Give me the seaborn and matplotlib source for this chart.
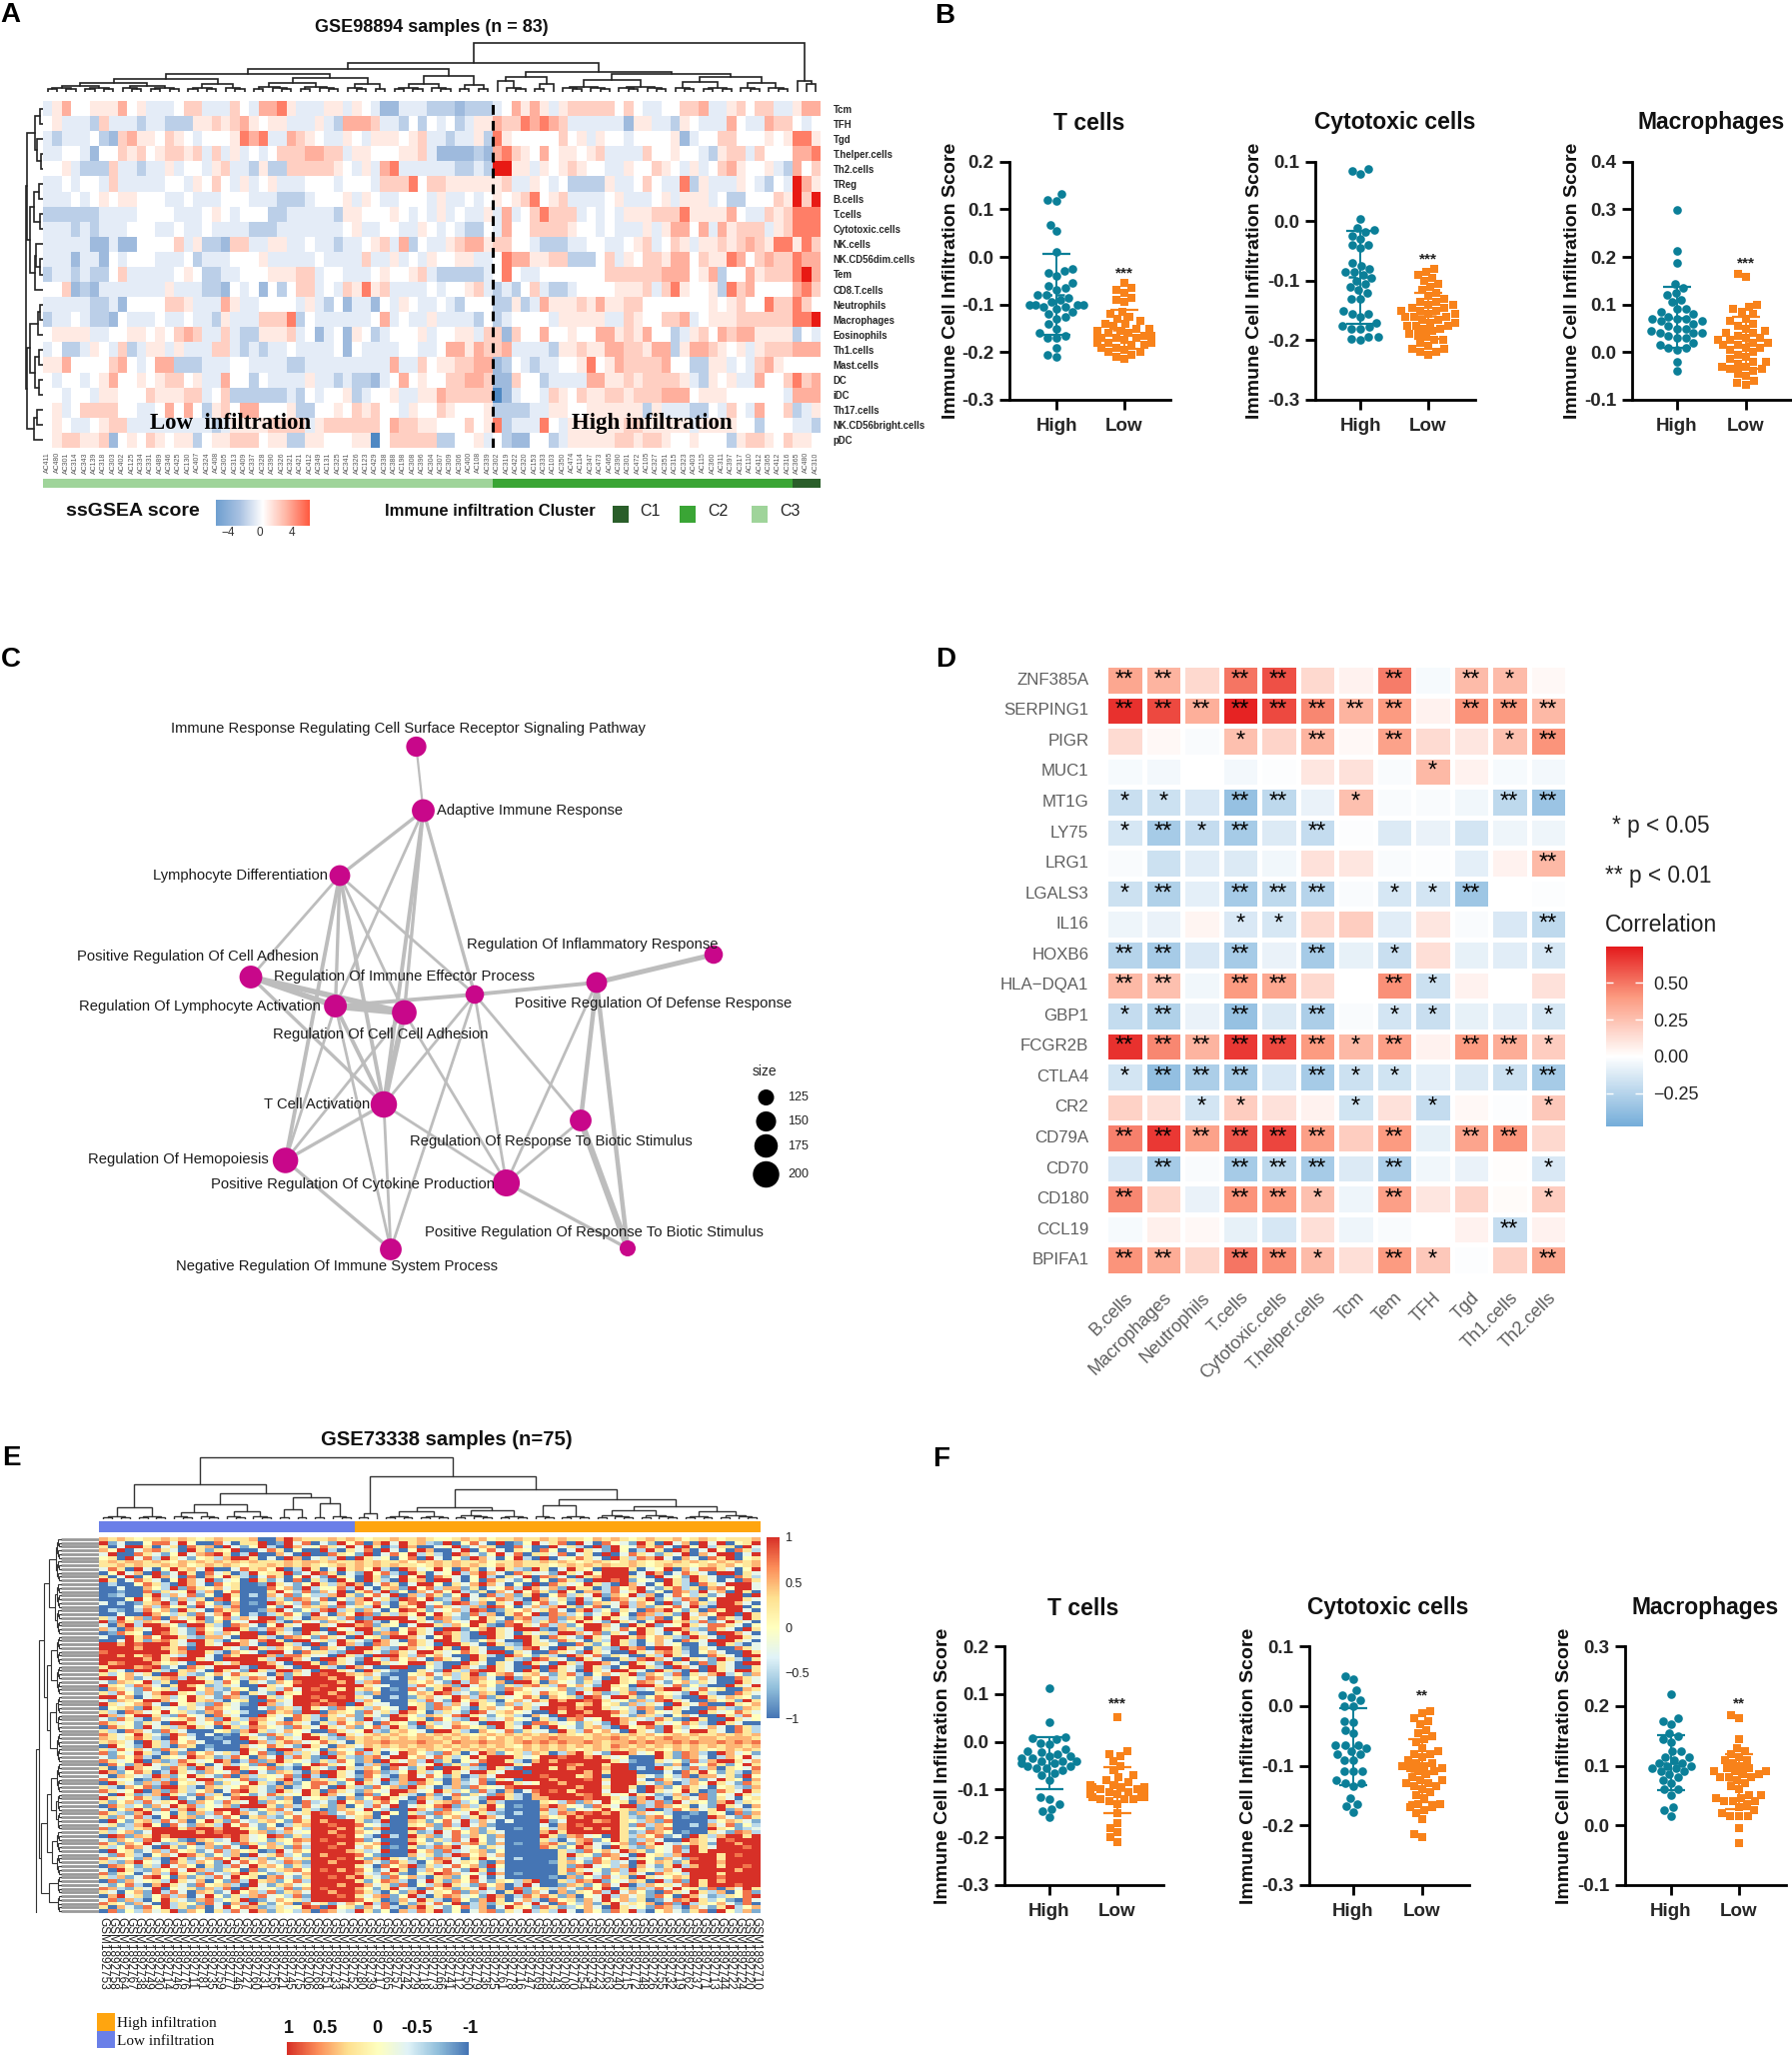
import numpy as np
import pandas as pd
import seaborn as sns
import matplotlib.pyplot as plt
from matplotlib.colors import LinearSegmentedColormap, ListedColormap

# ---------- panel A values (one digit per cell, 0 deep blue .. 4 white .. 9 red)
A_CELLS = ["Tcm", "TFH", "Tgd", "T.helper.cells", "Th2.cells", "TReg", "B.cells", "T.cells",
           "Cytotoxic.cells", "NK.cells", "NK.CD56dim.cells", "Tem", "CD8.T.cells", "Neutrophils",
           "Macrophages", "Eosinophils", "Th1.cells", "Mast.cells", "DC", "iDC", "Th17.cells",
           "NK.CD56bright.cells", "pDC"]
A_LOW_ROWS = [
    "3574455574 5333466333 6437785333 5535431133 32221222",
    "4533326333 2332225565 6754553335 3277763324 24342355",
    "3233342167 5546543444 5878337654 3354355545 63323352",
    "3344314465 6456656363 5343466677 6635544455 63111121",
    "4453222633 2335344356 3325226666 6543537833 33332232",
    "3343443633 3334435464 3534533344 4344436668 46655555",
    "3334345455 4443343334 4433322234 4453543344 43533434",
    "2222223333 4444333454 3444223333 3255444543 43534335",
    "3332323334 4433433433 3322233333 3345334433 54343224",
    "3333311311 4444635221 6633553343 3233456372 43356775",
    "3331331434 4433342333 4445333334 3333633534 35445533",
    "2332322463 3333454223 3444555663 4433345445 63222223",
    "4461213333 3335333221 4341424663 4365856333 34344563",
    "3333322314 4446653337 5334444353 2413314354 33432444",
    "2334322143 3343343325 3336668243 3333347343 35333324",
    "4555533445 5454676336 3225556341 3415423444 53445536",
    "3422354362 3553533366 3232334333 3414333344 33477576",
    "5574444674 3477222333 4433332233 3333333733 64556677",
    "4344345744 5456645337 4424333353 3232213474 54466776",
    "4434435544 4655566346 2222223243 4452344533 55766666",
    "4534666644 3347474256 4774445224 4546564435 44654445",
    "4543345663 3333333323 5555666635 6666664766 55444645",
    "4566556145 4654552455 6664552255 4445504666 66224453",
]
A_HIGH_ROWS = [
    "3475753566 6664643344 6673356466 33577",
    "7668787633 3333155332 5433374337 66434",
    "8544444645 3544344445 1344664445 45885",
    "7865474554 5633336445 4432566364 44778",
    "9955354565 4433544654 3534675445 32746",
    "5633543422 2253346433 8253335432 43975",
    "5456845633 3345333453 5553422444 65969",
    "3734686663 4343555666 8555574336 56888",
    "3744666654 4343335357 7473756663 56888",
    "6644322233 4433456346 5355656765 88586",
    "4877556622 2463546657 7465587467 66877",
    "4843344444 4466666677 7457244756 66897",
    "2324632234 4445556368 5445286744 44786",
    "2252375556 5755664444 4445456448 66864",
    "2344443555 5533654466 7345556666 66889",
    "6164474454 4775657442 3564767755 55243",
    "6733332556 5577665772 5776545356 66777",
    "1243233445 8457666674 4225534367 54444",
    "1164423333 7755656666 5325453374 46867",
    "0134436546 5566566677 7455544444 43777",
    "2222335544 5555552533 3224364374 46235",
    "8233384355 5555665555 5355554424 44332",
    "4211442355 5556656654 4544425665 46554",
]
A_SAMPLES = ("AC411 AC480 AC301 AC314 AC343 AC139 AC318 AC303 AC402 AC125 AC334 AC331 AC489 AC346 AC425 "
             "AC130 AC407 AC324 AC408 AC305 AC313 AC409 AC337 AC328 AC390 AC326 AC321 AC421 AC412 AC349 "
             "AC131 AC325 AC341 AC326 AC123 AC429 AC338 AC388 AC198 AC308 AC396 AC304 AC307 AC309 AC306 "
             "AC400 AC108 AC339 AC302 AC319 AC422 AC320 AC153 AC333 AC103 AC350 AC474 AC114 AC347 AC473 "
             "AC465 AC390 AC301 AC472 AC105 AC327 AC351 AC315 AC323 AC403 AC115 AC360 AC311 AC397 AC317 "
             "AC110 AC412 AC365 AC412 AC316 AC365 AC480 AC310").split()
A_CLUSTER_SIZES = [48, 32, 3]
A_TOP_TREE = (49,
              (29,
               (23,
                (18, (13, (9, 8, 7), (8, 4, 3)), (14, (9, 5, 5), (8, 3, 2))),
                (16, (8, 4, 3), (7, 2, 2))),
               (20, (15, (11, 1, 3), (8, 2, 1)), (18, (12, 6, 6), (15, (10, 3, 4), (9, 3, 3))))),
              (11, 1, (8, 1, 1)))
A_SIDE_TREE = (17,
               (16,
                (8, (3, 1, 1), (6, 1, (2, 1, 1))),
                (13, (9, (4, 1, 1), (3, 1, 1)), (8, (7, 1, (3, 1, 1)), 1))),
               (16,
                (13, (5, (3, 1, 1), 1), (8, (4, 1, 1), (4, 1, 1))),
                (9, (6, 1, 1), 1)))

# ---------- panels B and F values
GROUPS = ["High", "Low"]
SCATTER_TITLES = ["T cells", "Cytotoxic cells", "Macrophages"]
B_TCELL_HIGH = [.133, .12, .118, .068, .055, .01, -.025, -.03, -.033, -.04, -.055, -.06, -.065, -.07, -.08, -.08, -.085, -.09, -.095, -.1, -.1, -.1, -.1, -.105, -.105, -.11, -.115, -.12, -.125, -.13, -.14, -.15, -.16, -.165, -.17, -.17, -.19, -.205, -.21]
B_TCELL_LOW = [-.055, -.065, -.07, -.075, -.085, -.09, -.095, -.115, -.12, -.125, -.13, -.135, -.14, -.14, -.145, -.15, -.15, -.155, -.155, -.16, -.16, -.165, -.165, -.165, -.17, -.17, -.17, -.175, -.175, -.175, -.18, -.18, -.18, -.185, -.185, -.19, -.19, -.195, -.2, -.2, -.205, -.21, -.215]
B_CYTO_HIGH = [.088, .085, .08, .003, -.012, -.015, -.018, -.025, -.03, -.04, -.04, -.045, -.07, -.075, -.08, -.085, -.085, -.09, -.095, -.1, -.105, -.11, -.115, -.12, -.13, -.13, -.15, -.155, -.155, -.16, -.17, -.175, -.178, -.18, -.18, -.195, -.195, -.198, -.2]
B_CYTO_LOW = [-.08, -.085, -.09, -.095, -.1, -.105, -.11, -.115, -.12, -.125, -.13, -.135, -.135, -.14, -.14, -.145, -.145, -.15, -.15, -.15, -.155, -.155, -.16, -.16, -.16, -.165, -.165, -.17, -.17, -.175, -.175, -.175, -.18, -.18, -.185, -.19, -.19, -.195, -.2, -.2, -.205, -.21, -.215, -.215, -.22, -.22, -.225]
B_MACRO_HIGH = [.298, .213, .187, .143, .135, .125, .12, .11, .105, .09, .09, .085, .08, .075, .07, .07, .07, .065, .065, .06, .055, .05, .05, .045, .04, .04, .04, .035, .03, .03, .02, .015, .01, .01, .005, -.02, -.04]
B_MACRO_LOW = [.165, .158, .1, .095, .09, .085, .08, .07, .065, .06, .055, .05, .045, .04, .04, .035, .03, .03, .025, .025, .02, .02, .015, .015, .01, .01, .005, 0, -.005, -.01, -.015, -.02, -.02, -.025, -.03, -.03, -.035, -.035, -.04, -.045, -.05, -.06, -.065, -.068]
F_TCELL_HIGH = [.112, .042, .01, .008, .005, -.002, -.005, -.015, -.02, -.022, -.025, -.03, -.03, -.035, -.035, -.04, -.04, -.04, -.045, -.045, -.05, -.05, -.055, -.055, -.06, -.065, -.07, -.08, -.115, -.12, -.13, -.14, -.145, -.157]
F_TCELL_LOW = [.052, -.02, -.025, -.03, -.04, -.05, -.06, -.07, -.075, -.08, -.085, -.09, -.09, -.095, -.095, -.095, -.1, -.1, -.1, -.1, -.1, -.105, -.105, -.105, -.105, -.11, -.11, -.11, -.11, -.115, -.115, -.115, -.12, -.12, -.12, -.125, -.13, -.15, -.17, -.18, -.19, -.2, -.21]
F_CYTO_HIGH = [.05, .045, .027, .018, .015, .01, 0, 0, -.025, -.027, -.04, -.045, -.065, -.065, -.065, -.07, -.075, -.08, -.08, -.09, -.09, -.11, -.11, -.11, -.125, -.13, -.13, -.135, -.155, -.165, -.168, -.178]
F_CYTO_LOW = [-.008, -.012, -.02, -.025, -.03, -.04, -.045, -.05, -.055, -.06, -.07, -.075, -.08, -.08, -.085, -.09, -.095, -.095, -.1, -.1, -.105, -.105, -.11, -.11, -.115, -.12, -.125, -.125, -.13, -.13, -.135, -.135, -.14, -.145, -.15, -.155, -.165, -.165, -.17, -.17, -.175, -.18, -.19, -.215, -.22]
F_MACRO_HIGH = [.22, .18, .175, .17, .155, .15, .145, .14, .125, .125, .115, .115, .11, .105, .105, .1, .1, .095, .095, .09, .09, .085, .08, .075, .07, .06, .06, .05, .03, .025, .015]
F_MACRO_LOW = [.185, .18, .145, .13, .125, .12, .115, .11, .11, .105, .1, .095, .095, .09, .09, .09, .085, .085, .08, .08, .08, .075, .07, .065, .06, .05, .05, .045, .045, .04, .04, .04, .035, .03, .025, .02, .015, .015, .015, -.005, -.03]
B_LIMITS = [(-.3, .2), (-.3, .1), (-.1, .4)]
F_LIMITS = [(-.3, .2), (-.3, .1), (-.1, .3)]
B_STARS = ["***", "***", "***"]
F_STARS = ["***", "**", "**"]
B_STAR_Y = [-.035, -.064, .187]
F_STAR_Y = [.08, .0165, .204]

# ---------- panel C network
NODE_NAMES = ["Immune Response Regulating Cell Surface Receptor Signaling Pathway", "Adaptive Immune Response",
              "Lymphocyte Differentiation", "Positive Regulation Of Cell Adhesion", "Regulation Of Immune Effector Process",
              "Regulation Of Lymphocyte Activation", "Regulation Of Cell Cell Adhesion", "Positive Regulation Of Defense Response",
              "Regulation Of Inflammatory Response", "T Cell Activation", "Regulation Of Response To Biotic Stimulus",
              "Regulation Of Hemopoiesis", "Positive Regulation Of Cytokine Production", "Negative Regulation Of Immune System Process",
              "Positive Regulation Of Response To Biotic Stimulus"]
NODE_X = [416.5, 423.5, 340, 251, 475, 335.6, 404.5, 597, 714, 384, 581, 285.6, 506.6, 391, 628]
NODE_Y = [747, 811, 876, 977.5, 995, 1006.5, 1013, 983, 955, 1105, 1121, 1161, 1183.5, 1250, 1249]
NODE_SIZE = [151, 170, 155, 170, 140, 170, 185, 155, 140, 200, 162, 192, 205, 162, 125]
LABEL_X = [171, 437, 153, 77, 274, 79, 273, 515, 467, 264, 410, 88, 211, 176, 425]
LABEL_Y = [729, 811, 876, 957, 977, 1007, 1035, 1004, 945, 1105, 1142, 1160, 1185, 1267, 1233]
EDGES = [(0, 1, 2), (1, 2, 3), (1, 5, 2.5), (1, 9, 3.5), (1, 6, 3), (1, 4, 3), (2, 3, 2.5), (2, 5, 3), (2, 6, 2.5),
         (2, 9, 3.5), (2, 4, 2.5), (2, 11, 3.5), (3, 5, 5), (3, 6, 5), (3, 9, 3), (5, 6, 6), (5, 4, 3.5), (4, 7, 3.5),
         (7, 8, 4.5), (5, 9, 3.5), (6, 9, 5), (6, 12, 2.5), (4, 9, 2.5), (4, 10, 2.5), (4, 12, 2.5), (4, 13, 2.5),
         (5, 11, 2.5), (5, 13, 2.5), (9, 11, 3), (9, 12, 2.5), (9, 13, 2.5), (6, 11, 2.5), (11, 13, 3), (12, 10, 2.5),
         (12, 7, 2.5), (12, 14, 3), (7, 10, 4), (7, 14, 4), (10, 14, 5.5)]
LEGEND_SIZES = [125, 150, 175, 200]

# ---------- panel D values
D_GENES = ["ZNF385A", "SERPING1", "PIGR", "MUC1", "MT1G", "LY75", "LRG1", "LGALS3", "IL16", "HOXB6", "HLA\u2212DQA1",
           "GBP1", "FCGR2B", "CTLA4", "CR2", "CD79A", "CD70", "CD180", "CCL19", "BPIFA1"]
D_CELLS = ["B.cells", "Macrophages", "Neutrophils", "T.cells", "Cytotoxic.cells", "T.helper.cells", "Tcm", "Tem", "TFH",
           "Tgd", "Th1.cells", "Th2.cells"]
D_CORR = [
    [.35, .3, .15, .5, .6, .15, .05, .48, -.03, .27, .27, .03],
    [.68, .62, .32, .72, .62, .45, .3, .4, .05, .42, .4, .28],
    [.14, .03, -.02, .25, .17, .3, .03, .37, .14, .1, .25, .42],
    [-.03, -.04, 0, -.04, -.01, .1, .12, -.02, .28, .05, -.03, -.04],
    [-.18, -.17, -.13, -.36, -.22, -.07, .25, -.02, -.02, -.05, -.22, -.34],
    [-.14, -.3, -.2, -.3, -.12, -.2, -.01, -.12, -.07, -.15, -.06, -.06],
    [-.02, -.17, -.1, -.12, -.05, .12, .1, -.02, -.01, -.09, .05, .28],
    [-.17, -.27, -.09, -.3, -.22, -.25, -.02, -.14, -.15, -.33, 0, -.01],
    [-.06, -.07, .04, -.13, -.14, .15, .2, -.1, .1, -.02, -.13, -.22],
    [-.25, -.3, -.13, -.3, -.07, -.3, -.08, -.18, .13, -.08, -.1, -.14],
    [.28, .25, -.05, .4, .35, .15, 0, .43, -.17, .05, 0, .12],
    [-.2, -.27, -.07, -.36, -.12, -.28, -.02, -.15, -.18, -.08, -.09, -.14],
    [.68, .45, .3, .66, .62, .4, .28, .38, .05, .4, .33, .2],
    [-.15, -.37, -.28, -.3, -.13, -.3, -.17, -.16, -.09, -.12, -.17, -.3],
    [.18, .13, -.15, .2, .12, .05, -.16, .12, -.2, .03, -.01, .22],
    [.47, .66, .37, .58, .63, .38, .2, .4, -.08, .36, .42, .15],
    [-.13, -.3, -.02, -.3, -.22, -.3, -.12, -.28, -.05, -.07, .01, -.13],
    [.45, .16, -.07, .42, .4, .25, -.06, .38, .1, .17, .02, .2],
    [-.03, .06, .03, -.08, -.14, .13, -.06, -.02, 0, .05, -.2, .05],
    [.42, .33, .16, .5, .43, .27, .13, .4, .22, -.01, .18, .35],
]
D_STARS = ["220220020210", "222222220222", "000102020012", "000000001000", "110220100022", "121202000000",
           "000000000002", "120222011200", "000110000002", "220202010001", "220220021000", "120202011001",
           "222222120221", "122202110012", "001100101001", "222222020220", "020222020001", "200221020001",
           "000000000020", "220221021002"]

# ---------- panel E values (one digit per cell, 0 = -1 .. 4 = 0 .. 8 = 1)
E_ROWS = [
    "6565455656545655560068655 5656545565565445656455655 6565546565456556456545556",
    "8130047738400730558018370 3184706838562180473080148 3570830743185083608380458",
    "5038850350756083148208634 7538385028600348136500730 0835208184375730848255083",
    "6480367530851548003750400 8205370830486003804730540 7403853184028508603840752",
    "3800753148367850280063080 0754180374825208631483705 5370350803753153806388038",
    "4508372853145268850308603 5280853404708304186304820 8034753085276830630758045",
    "5656656546565656565556566 5655656556465656556455655 6565456545654556565465656",
    "5565655656456565455656565 4565656565545656565465655 5456565655654565545656456",
    "3750830485638003756480285 0385648208634840750385218 5038540888503480637753048",
    "0483608138507350284558138 7503184720850348268630753 3185384888038603753088053",
    "5038048630706485203750483 1853085138480753048205380 7630856888530834185300752",
    "8503753048638134085130705 2084085208560883040753140 4075208878143085285303075",
    "0200475208630745001853148 5268603750388405368630408 0753485208630485207538883",
    "0030064281754635000746182 4472830561847266150347286 3618550274683157250674883",
    "0010071534826047000584271 6380572814063748215063847 5184066273581407628360850",
    "0120058263714085020637142 2685147380627514830726158 0472538164826037425138808",
    "0004847316250784000251763 7042683518748126035476208 6351824076358142760488853",
    "3020156828374106010864271 5381647205783418726053814 7240816537264081375288630",
    "0000362745183627000418365 6173528406481753261874036 2685147038261547382088804",
    "0210274618530756001683142 7825163048751346287015463 5730682415307684150758830",
    "0030086425173684020257418 3064871526484853172605748 0762413584076251836488085",
    "5284617063581472638815306 6427018888350762148530672 2716584853162704853075285",
    "8175265388461504388620743 1653872048853164388517462 5724853185304885627138530",
    "3068288641885207630485388 5388671540388526485107853 7261488630858134853775304",
    "6207538853174388512762088 0843885204753088146853888 1065288537485388621753085",
    "0175408753185264880853185 3085281674853875208853053 5288637153085304853088630",
    "3008574885216630885207641 7530845188630485200853885 0753185388574652185308853",
    "0038516753885204637850883 5285318630753885214630085 3175305285204630753888530",
    "8868788853185388630885208 0386207634753088530852185 5300751485203634003085203",
    "8888688657088853185264630 7530885218634850853005278 3085305218670885105300753",
    "7888888856885206430883075 5218853175388534753880530 0753185300853675204630085",
    "8868578532883075888617753 3085208885274630085208641 5208637153005285300753088",
    "8888868578853088885288630 8853185274630753085005218 7530853005278630853185205",
    "8678886453088536888630885 0753088534885200853053085 3085288630853185307153088",
    "5888678130753888208853088 5208630088004208631853008 0853185204885208630853005",
    "8530885205630853185288630 8853085310053185278853085 0753085388530852080853885",
    "5246350885214637543061538 7886563100457362581467356 3157204635816427053682416",
    "8846135672853045276381888 8688425020635142576308164 7254163085427635146300753",
    "3165482508885274053164788 8868267000546318275460885 0643152885476314625300853",
    "8542763058641253008534888 7888853300274561836415267 5274631854088537142008538",
    "0653174528846215403527387 8858564010731586245317643 3461258845123688537450065",
    "5274136885426137053185488 8688216000465872316508453 7541836125700543185200753",
    "8846035624853176208524887 8878530020156348627153475 0645187388514752008536541",
    "3165488634856204500753888 6888264000527318465204637 5868878534162785300645185",
    "8534673084521753108623887 8780853300451726385416253 3888568451625308537008546",
    "0456185342537643003165285 3174526430851764205634752 8878688534276185300752165",
    "5207634845216734200756188 0654173528640253187356430 0858868875206435008534753",
    "8624885217430753008534752 7536153186426537853145206 3088788853165204630085274",
    "3175206345736185276430752 0563182388450742185236430 5206734886532751085008534",
    "7534153088534752485367530 5274630754185236430885207 7534153186388534752085300",
    "0754183526853085276431753 8536147285206437645185385 0843156208457185243630752",
    "5207631753000451685236430 0753482156430885206437153 3085274630853184388530752",
    "7534853186203010531752485 3185356565465656545656565 6565456565656456565565656",
    "6535752084300100853175388 5216565656566565656465656 6766656676565676656656665",
    "5653085274630020086257634 7530566766676657667665676 7676676566767667676676767",
    "0843185206501000634753185 3065365656566565656565465 6565656576565656565656656",
    "5274631753002000853088634 0643185345656546565656565 6565456565656546565456565",
    "7143852061746352847106253 8164725038642175038614526 5026853188634851762086341",
    "3164720543865127406382751 0852167388463752485888534 8878868534000851763026483",
    "7534806127534860271685431 5274160853628150437885206 8688888853100534172688536",
    "0741683526850362417053148 7534026188634815270888538 8887688588000216034751485",
    "5028643175186388534712085 3185264073158088521852088 8586888688020853172605437",
    "8614750285316437083165206 8853076124852485388538808 8888868588800030758415206",
    "3065328614853170625437182 0853174206837415026388888 7888568088853142706635184",
    "7534016275388534712468206 5247063816885206137153088 8688878588830753261385406",
    "0853162704537153485206147 7514853026175406237088534 8868888388853160264853175",
    "5206471885206534753160247 3085217461853026175437888 8888688588508614753045216",
    "7534806175246037853185385 0753164388634852417206037 8785888388308534850175385",
    "3085126853172506413753485 8634071485206137153175206 8888678534853126207143853",
    "8534752081306437885216034 5206147853075206431885206 6888878853168205637153045",
    "5146273548164275381645072 3184625740183567240620000 5427163845062718354168254",
    "0752416385724361888516273 5160427380354781625840100 6864317538812764503185306",
    "3046851726854888214673052 0165384200863172546820000 7261435845618027463581624",
    "7521683405162748631526358 7136450840521764385210200 5276878685163420010540716",
    "5163720485613274056214738 8813560400873146258630000 6458688885216740100863175",
    "0841562736048517325641758 6888512800651473826303000 8138886785426170000246531",
    "3512684073165284731402568 8788743100546172836100000 3068788885172640020637142",
    "7132568885788688541637428 8868516800873154261300100 5268868685341670000854123",
    "5246138888868788856126348 8688643000512837461530000 6858888885127640100531762",
    "0871658688888878634871528 8878420820856137264160000 8516734085264713085268858",
    "3164278451065238634154768 7888713000641527384130000 5203671485126300865387888",
    "7516483125706431752624638 8868546800853142675160100 6751683246175832465188688",
    "5247630851426173084651728 8788364010512768341530000 7514863085216437185388878",
    "0845136274513726450183648 8886523800846172356140000 0052174638651437285888888",
    "3175204638751426083572418 6888741000635128746360000 0058541763084526888858788",
    "7534162085136748526146358 8878516853142763058430200 0051327468254163178858888",
    "5216843075264183746327618 8688863175204683541060000 0156417523084651588868888",
    "0764152836405127385641528 8888530746815237461840000 0051783426063158268858878",
    "3085216473862154071356748 7868741385026473185030000 0057534162854263888888688",
    "7154036285417326854124368 8888632751045876342860100 0051683142630754288858888",
    "5261378406152738450673158 8786853174620561483030000 0106142735085346588878888",
    "0716345285360417285614728 8888514762038516473154268 0052768143650827185868888",
    "3147206853174562083156348 8868863517042685317460283 0016514738026453785888788",
    "7621538043516270853427168 7888641583207461538260714 5263174805162738451706385",
    "5304618273065138462715638 8688752041683547162305816 3061547283641075385260471",
    "0683514726038415267342718 8878536714820576341860275 7516043826351740863125478",
    "3716204853167245801364528 8888745016385207416850362 0745163846250137685241073",
    "7541630825417306285146073 5136482705163748026154738 3074261583546071825463170",
    "5063174825160384761253487 0845163720685314726038541 7512463085341762063158246",
    "0714263581640527386154260 7632851406275814036715382 5283064175820463157084261",
]
E_SAMPLE_SUFFIX = [753, 758, 764, 767, 738, 749, 730, 714, 746, 776, 711, 781, 735, 759, 777, 746, 727, 760, 731,
                   756, 721, 745, 775, 706, 768, 751, 733, 774, 752, 780, 739, 717, 765, 757, 742, 729, 718, 773,
                   766, 741, 712, 750, 779, 736, 725, 761, 778, 716, 747, 769, 728, 743, 708, 770, 754, 734, 723,
                   763, 740, 715, 772, 748, 726, 755, 732, 719, 762, 737, 771, 713, 744, 722, 724, 720, 710]
E_GROUP_SIZES = [29, 46]
E_TOP_TREE = (62,
              (35, (12, 4, 4), (26, (15, (7, 3, 3), (8, 3, 3)), (22, (10, 2, 2), (16, 2, 3)))),
              (43, (6, 2, 1), (30, (12, (8, 4, 4), (9, 5, 4)), (20, (14, 3, 4), (13, (9, 5, 5), (8, 4, 5))))))
E_SIDE_TREE = (63,
               (60,
                (55, (50, 12, 14), (52, (48, 8, 8), (49, 10, 8))),
                (58, (52, (48, 8, 10), (47, 6, 6)), (50, 5, 5))),
               1)

W, H = 1793, 2060
TEAL = "#0b7f98"
ORANGE = "#f8821a"
SANS = ["Liberation Sans", "DejaVu Sans"]
SERIF = ["Liberation Serif", "DejaVu Serif"]

sns.set_theme(style="white")
plt.rcParams["font.family"] = SANS
plt.rcParams["axes.unicode_minus"] = False

fig = plt.figure(figsize=(W / 100, H / 100), dpi=100)


def px_axes(x0, y0, x1, y1):
    return fig.add_axes([x0 / W, 1 - y1 / H, (x1 - x0) / W, (y1 - y0) / H])


def px_text(x, y, s, **kw):
    kw.setdefault("va", "center")
    return fig.text(x / W, 1 - y / H, s, **kw)


def digits(rows):
    return [[int(c) for c in r.replace(" ", "")] for r in rows]


def draw_tree(ax, node, counter, side, base, unit, color, lw):
    # returns position and height of a node, int means that many plain leaves
    if node == 1:
        counter[0] += 1
        return counter[0] - 0.5, base
    if isinstance(node, int):
        a, b = node // 2, node - node // 2
        height = base + unit * node ** 0.5
    else:
        height, a, b = node
    pa, ha = draw_tree(ax, a, counter, side, base, unit, color, lw)
    pb, hb = draw_tree(ax, b, counter, side, base, unit, color, lw)
    if side == "top":
        ax.plot([pa, pa, pb, pb], [ha, height, height, hb], color=color, lw=lw, solid_joinstyle="miter")
    else:
        ax.plot([-ha, -height, -height, -hb], [pa, pa, pb, pb], color=color, lw=lw, solid_joinstyle="miter")
    return (pa + pb) / 2, height


def scatter_panel(x0, x1, y0, y1, high, low, limits, title, title_x, title_y, stars, star_y, label_x, label_y, high_x, low_x):
    ax = px_axes(x0, y0, x1, y1)
    unit = low_x - high_x
    ax.set_xlim((x0 - high_x) / unit, (x1 - high_x) / unit)
    ax.set_ylim(*limits)
    sns.swarmplot(x=["High"] * len(high), y=high, order=GROUPS, color=TEAL, marker="o", size=6.2, ax=ax)
    sns.swarmplot(x=["Low"] * len(low), y=low, order=GROUPS, color=ORANGE, marker="s", size=6.0, ax=ax)
    ax.set_xlim((x0 - high_x) / unit, (x1 - high_x) / unit)
    ax.set_ylim(*limits)
    for pos, vals, col in [(0, high, TEAL), (1, low, ORANGE)]:
        mean, sd = np.mean(vals), np.std(vals)
        ax.errorbar(pos, mean, yerr=sd, color=col, capsize=10, lw=1.4, capthick=1.6, zorder=5)
        ax.hlines(mean, pos - 0.17, pos + 0.17, color=col, lw=1.8, ls=(0, (3, 2)), zorder=5)
    ax.text(1, star_y, stars, ha="center", va="center", fontsize=11, fontweight="bold", color="#222222")
    for s in ["top", "right"]:
        ax.spines[s].set_visible(False)
    for s in ["left", "bottom"]:
        ax.spines[s].set_linewidth(2)
        ax.spines[s].set_color("black")
    ticks = np.arange(limits[0], limits[1] + 0.01, 0.1)
    ax.set_yticks(ticks)
    ax.set_yticklabels([f"{t:.1f}" for t in ticks], fontsize=13.5, fontweight="bold")
    ax.set_xticks([0, 1])
    ax.set_xticklabels(GROUPS, fontsize=13.5, fontweight="bold")
    ax.tick_params(axis="both", length=7, width=2, color="black", bottom=True, left=True, pad=4)
    ax.tick_params(axis="x", pad=6)
    ax.set_xlabel("")
    ax.set_ylabel("")
    ax.patch.set_alpha(0)
    px_text(title_x, title_y, title, ha="center", fontsize=16.5, fontweight="bold", color="#111111")
    px_text(label_x, label_y, "Immune Cell Infiltration Score", rotation=90, ha="center", fontsize=14,
            fontweight="bold", color="#111111")


# panel letters
for letter, lx, ly in [("A", 10, 15), ("B", 945, 16), ("C", 11, 660), ("D", 946, 660), ("E", 11, 1459), ("F", 942, 1460)]:
    px_text(lx, ly, letter, ha="center", fontsize=20, fontweight="bold", color="black")

# ---------- panel A
cmap_a = LinearSegmentedColormap.from_list("a", ["#4f88c3", "#9fbbdd", "#bccfe8", "#e4ecf7", "#ffffff", "#ffeae3",
                                                  "#ffcfc2", "#ffb09e", "#ff7f68", "#e81a14"])
a_rows = [l.replace(" ", "") + h.replace(" ", "") for l, h in zip(A_LOW_ROWS, A_HIGH_ROWS)]
a_df = pd.DataFrame(digits(a_rows), index=A_CELLS, columns=A_SAMPLES)
ax = px_axes(43, 101, 821, 448)
sns.heatmap(a_df, cmap=cmap_a, vmin=0, vmax=9, cbar=False, xticklabels=True, yticklabels=True, ax=ax)
ax.tick_params(axis="x", length=0, labelsize=5, labelcolor="#555555", rotation=90, pad=3)
ax.tick_params(axis="y", length=0, labelsize=6.9, rotation=0, left=False, labelleft=False, labelright=True, pad=9)
for t in ax.get_yticklabels():
    t.set_fontweight("bold")
ax.set_xlabel("")
ax.set_ylabel("")
ax.axvline(A_CLUSTER_SIZES[0], color="black", lw=2.2, ls=(0, (3.2, 2)))
ax.text(20, 21.4, "Low  infiltration", family=SERIF, ha="center", va="center", fontsize=16.5, fontweight="bold", color="black")
ax.text(65, 21.4, "High infiltration", family=SERIF, ha="center", va="center", fontsize=16.5, fontweight="bold", color="black")

ax = px_axes(43, 40, 821, 92)
draw_tree(ax, A_TOP_TREE, [0], "top", 0, 2.2, "#222222", 1.2)
ax.set_xlim(0, 83)
ax.set_ylim(0, 52)
ax.axis("off")

ax = px_axes(25, 101, 43, 448)
draw_tree(ax, A_SIDE_TREE, [0], "left", 0, 1, "#222222", 1.2)
ax.set_xlim(-18, 0)
ax.set_ylim(23, 0)
ax.axis("off")

ax = px_axes(43, 479, 821, 488)
codes = np.repeat([2, 1, 0], A_CLUSTER_SIZES)[None, :]
sns.heatmap(codes, cmap=ListedColormap(["#2a5e2a", "#3aa535", "#9fd49a"]), cbar=False, xticklabels=False, yticklabels=False, ax=ax)

px_text(66, 512, "ssGSEA score", fontsize=14, fontweight="bold", color="#111111")
ax = px_axes(216, 500, 310, 526)
ax.imshow(np.linspace(0, 9, 200)[None, :], aspect="auto", cmap=LinearSegmentedColormap.from_list("ac", ["#6f9fd0", "#a9c2e2", "#ffffff", "#ffb6a5", "#ff5a40"]),
          extent=(-5.5, 6.3, 0, 1))
ax.set_xticks([-4, 0, 4])
ax.set_xticklabels(["\u22124", "0", "4"], fontsize=8.5, color="#333333")
ax.set_yticks([])
ax.tick_params(axis="x", length=0, pad=1)
for s in ax.spines.values():
    s.set_visible(False)
px_text(385, 512, "Immune infiltration Cluster", fontsize=12, fontweight="bold", color="#111111")
for name, col, sq_x, tx in [("C1", "#2a5e2a", 613, 640), ("C2", "#3aa535", 680, 708), ("C3", "#9fd49a", 752, 780)]:
    sq = px_axes(sq_x, 506, sq_x + 16, 523)
    sq.set_facecolor(col)
    sq.set_xticks([])
    sq.set_yticks([])
    for s in sq.spines.values():
        s.set_visible(False)
    px_text(tx, 512, name, fontsize=11.5, color="#222222")

px_text(432, 28, "GSE98894 samples (n = 83)", ha="center", fontsize=13, fontweight="bold", color="#111111")

# ---------- panel B
b_sets = [(B_TCELL_HIGH, B_TCELL_LOW), (B_CYTO_HIGH, B_CYTO_LOW), (B_MACRO_HIGH, B_MACRO_LOW)]
b_geo = [(1010, 1171, 1090, 951, 1057, 1125), (1316, 1476, 1396, 1255, 1361, 1429), (1633, 1793, 1712, 1573, 1678, 1747)]
for i, (hi, lo) in enumerate(b_sets):
    x0, x1, tx, lx, hx, lowx = b_geo[i]
    scatter_panel(x0, x1, 161.7, 400, hi, lo, B_LIMITS[i], SCATTER_TITLES[i], tx, 123, B_STARS[i], B_STAR_Y[i], lx, 281, hx, lowx)

# ---------- panel C
ax = px_axes(0, 640, 850, 1340)
for a, b, w in EDGES:
    ax.plot([NODE_X[a], NODE_X[b]], [NODE_Y[a], NODE_Y[b]], color="#bdbdbd", lw=w * 0.8, solid_capstyle="round", zorder=1)
sns.scatterplot(x=NODE_X, y=NODE_Y, size=NODE_SIZE, sizes=(133, 378), size_norm=(125, 205), color="#c8078a",
                edgecolor="none", legend=False, ax=ax, zorder=3)
for name, lx, ly in zip(NODE_NAMES, LABEL_X, LABEL_Y):
    ax.text(lx, ly, name, ha="left", va="center", fontsize=10.6, color="#1a1a1a", zorder=4)
legend_y = [1098, 1122, 1146.5, 1175]
sns.scatterplot(x=[766.5] * 4, y=legend_y, size=LEGEND_SIZES, sizes=(133, 378), size_norm=(125, 205), color="black",
                edgecolor="none", legend=False, ax=ax, zorder=3)
for v, yy in zip(LEGEND_SIZES, legend_y):
    ax.text(788, yy, str(v), va="center", fontsize=9, color="#222222")
ax.text(764.5, 1072, "size", ha="center", va="center", fontsize=10, color="#222222")
ax.set_xlim(0, 850)
ax.set_ylim(1340, 640)
ax.axis("off")

# ---------- panel D
z0 = 0.475 / 1.22
cmap_d = LinearSegmentedColormap.from_list("d", [(0, "#74add9"), (z0, "#ffffff"), (z0 + 0.33, "#fc9a80"), (1, "#e41a1c")])
d_df = pd.DataFrame(D_CORR, index=D_GENES, columns=D_CELLS)
d_annot = [["*" * int(c) for c in row] for row in D_STARS]
ax = px_axes(1106, 665, 1568, 1276)
cax = px_axes(1606.5, 947, 1643.5, 1127)
sns.heatmap(d_df, cmap=cmap_d, vmin=-.475, vmax=.745, linewidths=2.4, linecolor="white", annot=d_annot, fmt="",
            annot_kws={"fontsize": 17, "color": "black"}, cbar_ax=cax, cbar_kws={"ticks": [-.25, 0, .25, .5]}, ax=ax)
ax.set_xlabel("")
ax.set_ylabel("")
ax.tick_params(axis="y", length=0, labelsize=12.2, labelcolor="#5f5f5f", rotation=0, pad=12)
ax.tick_params(axis="x", length=0, labelsize=13, labelcolor="#5f5f5f", pad=10)
plt.setp(ax.get_xticklabels(), rotation=45, ha="right", rotation_mode="anchor")
cax.set_yticklabels(["\u22120.25", "0.00", "0.25", "0.50"], fontsize=13, color="#222222")
cax.tick_params(length=0, pad=8)
for t in [-.25, 0, .25, .5]:
    cax.hlines(t, 0, .2, color="white", lw=1)
    cax.hlines(t, .8, 1, color="white", lw=1)
px_text(1613, 826, "* p < 0.05", fontsize=16.3, color="#222222")
px_text(1606, 876.5, "** p < 0.01", fontsize=16.3, color="#222222")
px_text(1606, 925, "Correlation", fontsize=16.6, color="#222222")

# ---------- panel E
cmap_e = LinearSegmentedColormap.from_list("e", ["#4575B4", "#91BFDB", "#E0F3F8", "#FFFFBF", "#FEE090", "#FC8D59", "#D73027"])
e_vals = np.array(digits(E_ROWS), dtype=float)
e_vals = (e_vals - 4) / 4
e_samples = [f"GSM1892{s}" for s in E_SAMPLE_SUFFIX]
e_df = pd.DataFrame(e_vals, columns=e_samples)
ax = px_axes(99, 1538, 761, 1914)
cax = px_axes(767, 1538, 780, 1719)
sns.heatmap(e_df, cmap=cmap_e, vmin=-1, vmax=1, xticklabels=True, yticklabels=False, cbar_ax=cax,
            cbar_kws={"ticks": [-1, -.5, 0, .5, 1]}, ax=ax)
ax.set_xlabel("")
ax.set_ylabel("")
ax.tick_params(axis="x", length=0, labelsize=8.5, labelcolor="#222222", pad=3)
plt.setp(ax.get_xticklabels(), rotation=270, ha="center", va="top")
cax.set_yticklabels(["\u22121", "\u22120.5", "0", "0.5", "1"], fontsize=9, color="#222222")
cax.tick_params(length=0, pad=4)

ax = px_axes(99, 1455, 761, 1520)
draw_tree(ax, E_TOP_TREE, [0], "top", 0, 1.6, "#333333", 1.0)
ax.set_xlim(0, 75)
ax.set_ylim(0, 65)
ax.axis("off")

ax = px_axes(35, 1538, 99, 1914)
for r in range(100):
    ax.plot([-38, 0], [r + .5, r + .5], color="#999999", lw=2, solid_capstyle="butt")
draw_tree(ax, E_SIDE_TREE, [0], "left", 38, 1.5, "#333333", 0.8)
ax.set_xlim(-64, 0)
ax.set_ylim(100, 0)
ax.axis("off")

ax = px_axes(99, 1522, 761, 1533)
codes = np.repeat([0, 1], E_GROUP_SIZES)[None, :]
sns.heatmap(codes, cmap=ListedColormap(["#6a7fe8", "#ffa50f"]), cbar=False, xticklabels=False, yticklabels=False, ax=ax)

px_text(447, 1441, "GSE73338 samples (n=75)", ha="center", fontsize=14.6, fontweight="bold", color="#111111")

for col, y0, y1, label, ty in [("#ffa50f", 2014, 2032, "High infiltration", 2024), ("#6a7fe8", 2032, 2049, "Low infiltration", 2042.5)]:
    sq = px_axes(97, y0, 115, y1)
    sq.set_facecolor(col)
    sq.set_xticks([])
    sq.set_yticks([])
    for s in sq.spines.values():
        s.set_visible(False)
    px_text(117, ty, label, family=SERIF, fontsize=11, color="#111111")
ax = px_axes(287, 2043, 469, 2056)
ax.imshow(np.linspace(1, -1, 200)[None, :], aspect="auto", cmap=cmap_e, vmin=-1, vmax=1)
ax.axis("off")
for lab, lx in [("1", 289), ("0.5", 325), ("0", 377), ("-0.5", 417), ("-1", 470)]:
    px_text(lx, 2030, lab, ha="center", fontsize=13, fontweight="bold", color="#111111")

# ---------- panel F
f_sets = [(F_TCELL_HIGH, F_TCELL_LOW), (F_CYTO_HIGH, F_CYTO_LOW), (F_MACRO_HIGH, F_MACRO_LOW)]
f_geo = [(1005, 1164, 1083.5, 943.5, 1049.5, 1118), (1309.5, 1470, 1389, 1249, 1354, 1423), (1626, 1787, 1706, 1565, 1672, 1740)]
for i, (hi, lo) in enumerate(f_sets):
    x0, x1, tx, lx, hx, lowx = f_geo[i]
    scatter_panel(x0, x1, 1647, 1886, hi, lo, F_LIMITS[i], SCATTER_TITLES[i], tx, 1609, F_STARS[i], F_STAR_Y[i], lx, 1767, hx, lowx)

fig.savefig("out.png", dpi=100)
